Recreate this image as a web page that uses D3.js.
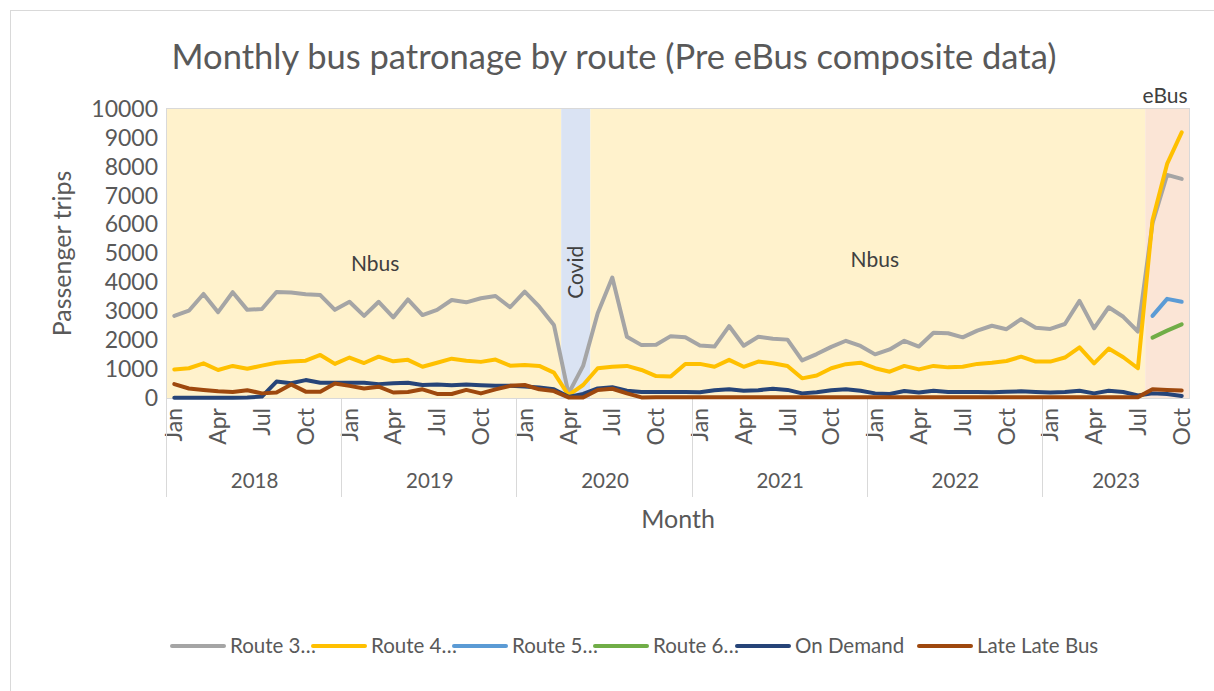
<!doctype html>
<html>
<head>
<meta charset="utf-8">
<title>Monthly bus patronage by route</title>
<script src="https://cdn.jsdelivr.net/npm/d3@7"></script>
<style>
  body { margin: 0; background: #fff; }
  text { font-family: Lato, "Open Sans", sans-serif; fill: #595959; }
</style>
</head>
<body>
<script>
// Categories: months of each year (2023 stops at October).
const years = [2018, 2019, 2020, 2021, 2022, 2023];
const monthNames = ["Jan", "Feb", "Mar", "Apr", "May", "Jun", "Jul", "Aug", "Sep", "Oct", "Nov", "Dec"];
const monthsPerYear = [12, 12, 12, 12, 12, 10];
const tickMonths = ["Jan", "Apr", "Jul", "Oct"];

// Passenger trips per month.
const route3 = [
  2840, 3020, 3600, 2970, 3660, 3050, 3080, 3670, 3650, 3590, 3560, 3050,
  3330, 2840, 3330, 2790, 3410, 2870, 3050, 3390, 3310, 3450, 3530, 3140,
  3680, 3160, 2530, 150, 1110, 2930, 4170, 2120, 1830, 1840, 2140, 2100,
  1820, 1780, 2490, 1810, 2120, 2050, 2020, 1300, 1520, 1770, 1980, 1800,
  1510, 1680, 1980, 1780, 2260, 2240, 2100, 2330, 2500, 2380, 2730, 2430,
  2390, 2560, 3360, 2410, 3140, 2810, 2300, 6050, 7720, 7580
];
const route4 = [
  990, 1030, 1200, 970, 1110, 1010, 1120, 1220, 1260, 1290, 1490, 1180,
  1400, 1210, 1430, 1270, 1320, 1080, 1220, 1360, 1290, 1250, 1330, 1120,
  1140, 1110, 880, 100, 450, 1030, 1080, 1110, 970, 760, 740, 1180,
  1180, 1080, 1320, 1080, 1260, 1200, 1110, 680, 780, 1030, 1170, 1220,
  1030, 910, 1110, 990, 1110, 1060, 1080, 1180, 1220, 1280, 1430, 1260,
  1260, 1400, 1750, 1200, 1710, 1410, 1030, 6150, 8100, 9190
];
const route5 = [
  null, null, null, null, null, null, null, null, null, null, null, null,
  null, null, null, null, null, null, null, null, null, null, null, null,
  null, null, null, null, null, null, null, null, null, null, null, null,
  null, null, null, null, null, null, null, null, null, null, null, null,
  null, null, null, null, null, null, null, null, null, null, null, null,
  null, null, null, null, null, null, null, 2840, 3430, 3330
];
const route6 = [
  null, null, null, null, null, null, null, null, null, null, null, null,
  null, null, null, null, null, null, null, null, null, null, null, null,
  null, null, null, null, null, null, null, null, null, null, null, null,
  null, null, null, null, null, null, null, null, null, null, null, null,
  null, null, null, null, null, null, null, null, null, null, null, null,
  null, null, null, null, null, null, null, 2090, 2330, 2550
];
const onDemand = [
  10, 10, 10, 10, 10, 20, 50, 570, 510, 620, 530, 530,
  530, 530, 480, 510, 530, 450, 470, 440, 470, 440, 420, 420,
  400, 360, 300, 40, 140, 330, 370, 250, 210, 210, 210, 210,
  200, 270, 300, 250, 270, 320, 280, 160, 200, 270, 300, 250,
  160, 140, 240, 190, 250, 210, 210, 210, 200, 220, 230, 210,
  190, 210, 250, 160, 250, 210, 90, 160, 140, 70
];
const lateLateBus = [
  480, 330, 280, 230, 210, 270, 160, 190, 470, 220, 220, 500,
  420, 330, 390, 190, 210, 300, 140, 140, 280, 160, 300, 420,
  450, 300, 240, 20, 20, 280, 320, 160, 20, 30, 30, 30,
  30, 30, 30, 30, 30, 30, 30, 30, 30, 30, 30, 30,
  30, 30, 30, 30, 30, 30, 30, 30, 30, 30, 30, 30,
  30, 30, 30, 30, 30, 30, 30, 300, 280, 260
];

const seriesNames = ["Route 3\u2026", "Route 4\u2026", "Route 5\u2026", "Route 6\u2026", "On Demand", "Late Late Bus"];
const seriesValues = [route3, route4, route5, route6, onDemand, lateLateBus];
const seriesColors = ["#a5a5a5", "#ffc000", "#5b9bd5", "#70ad47", "#264478", "#9e480e"];

// Shaded periods behind the lines.
const periodLabels = ["Nbus", "Covid", "Nbus", "eBus"];
const periodStart = ["2018-Jan", "2020-Apr", "2020-Jun", "2023-Aug"];
const periodEnd = ["2020-Mar", "2020-May", "2023-Jul", "2023-Oct"];
const periodColors = ["#fff2cc", "#dae3f3", "#fff2cc", "#fbe5d6"];

const categories = years.flatMap((yr, i) => monthNames.slice(0, monthsPerYear[i]).map((m) => `${yr}-${m}`));

// Chart dimensions.
const width = 1214;
const height = 691;
const plotLeft = 167;
const plotRight = 1189;
const plotTop = 109;
const plotBottom = 398;

const x = d3.scaleBand(categories, [plotLeft, plotRight]).padding(0);
const y = d3.scaleLinear([0, 10000], [plotBottom, plotTop]);
const cx = (c) => x(c) + x.bandwidth() / 2;

const svg = d3.create("svg")
    .attr("width", width)
    .attr("height", height)
    .attr("viewBox", [0, 0, width, height]);

// Chart area border.
svg.append("rect")
    .attr("x", 10.5).attr("y", 10.5)
    .attr("width", width).attr("height", height)
    .attr("fill", "#fff")
    .attr("stroke", "#d9d9d9");

// Title.
svg.append("text")
    .attr("x", 614).attr("y", 69)
    .attr("text-anchor", "middle")
    .attr("font-size", 34.5)
    .text("Monthly bus patronage by route (Pre eBus composite data)");

// Period bands.
const periods = periodLabels.map((label, i) => ({label, start: periodStart[i], end: periodEnd[i], color: periodColors[i]}));
svg.append("g")
  .selectAll("rect")
  .data(periods)
  .join("rect")
    .attr("x", (d) => x(d.start))
    .attr("y", y(10000))
    .attr("width", (d) => x(d.end) + x.bandwidth() - x(d.start))
    .attr("height", y(0) - y(10000))
    .attr("fill", (d) => d.color);

// Plot area outline.
svg.append("rect")
    .attr("x", plotLeft - 0.5).attr("y", y(10000) - 0.5)
    .attr("width", plotRight - plotLeft + 1)
    .attr("height", y(0) - y(10000) + 1)
    .attr("fill", "none")
    .attr("stroke", "#d9d9d9");

// Period labels.
const labelG = svg.append("g").attr("font-size", 21);
periods.forEach((d, i) => {
  const mid = (x(d.start) + x(d.end) + x.bandwidth()) / 2;
  if (d.label === "Covid") {
    labelG.append("text")
        .attr("transform", `translate(${x(d.start) + 14},${y(4350)}) rotate(-90)`)
        .attr("text-anchor", "middle")
        .attr("dy", "0.35em")
        .style("fill", "#404040")
        .text(d.label);
  } else if (d.label === "eBus") {
    labelG.append("text")
        .attr("x", mid - 2).attr("y", plotTop - 6)
        .attr("text-anchor", "middle")
        .style("fill", "#404040")
        .text(d.label);
  } else {
    labelG.append("text")
        .attr("x", mid + (i === 0 ? 11 : 7))
        .attr("y", y(i === 0 ? 4650 : 4800))
        .attr("text-anchor", "middle")
        .attr("dy", "0.35em")
        .style("fill", "#404040")
        .text(d.label);
  }
});

// Y axis.
svg.append("g")
    .attr("transform", `translate(${plotLeft},0)`)
    .call(d3.axisLeft(y).tickValues(d3.range(0, 10001, 1000)).tickFormat(d3.format("d")).tickSize(0).tickPadding(9))
    .call((g) => g.select(".domain").remove())
    .call((g) => g.selectAll("text").attr("font-size", 23).attr("font-family", null));

svg.append("text")
    .attr("transform", `translate(62,${(plotTop + plotBottom) / 2}) rotate(-90)`)
    .attr("text-anchor", "middle")
    .attr("dy", "0.35em")
    .attr("font-size", 25)
    .text("Passenger trips");

// X axis: month labels, year labels and group separators.
svg.append("g")
  .selectAll("text")
  .data(categories.filter((c) => tickMonths.includes(c.slice(5))))
  .join("text")
    .attr("transform", (c) => `translate(${cx(c)},${plotBottom + 10}) rotate(-90)`)
    .attr("text-anchor", "end")
    .attr("dy", "0.35em")
    .attr("font-size", 23)
    .text((c) => c.slice(5));

const yearStart = years.map((yr) => x(`${yr}-Jan`));
svg.append("g")
  .selectAll("line")
  .data(yearStart)
  .join("line")
    .attr("x1", (d) => Math.round(d) - 0.5).attr("x2", (d) => Math.round(d) - 0.5)
    .attr("y1", plotBottom).attr("y2", 497)
    .attr("stroke", "#d9d9d9");

svg.append("g")
  .selectAll("text")
  .data(years)
  .join("text")
    .attr("x", (yr, i) => {
      const last = `${yr}-${monthNames[monthsPerYear[i] - 1]}`;
      return (x(`${yr}-Jan`) + x(last) + x.bandwidth()) / 2;
    })
    .attr("y", 481)
    .attr("text-anchor", "middle")
    .attr("dy", "0.35em")
    .attr("font-size", 20.5)
    .text((yr) => yr);

svg.append("text")
    .attr("x", 678).attr("y", 519)
    .attr("text-anchor", "middle")
    .attr("dy", "0.35em")
    .attr("font-size", 25)
    .text("Month");

// Lines.
const line = d3.line()
    .defined((d) => d[1] != null)
    .x((d) => cx(d[0]))
    .y((d) => y(d[1]));

svg.append("g")
    .attr("fill", "none")
    .attr("stroke-width", 4)
    .attr("stroke-linejoin", "round")
    .attr("stroke-linecap", "round")
  .selectAll("path")
  .data(seriesValues)
  .join("path")
    .attr("stroke", (d, i) => seriesColors[i])
    .attr("d", (vals) => line(categories.map((c, j) => [c, vals[j]])));

// Legend.
const legendX = [172, 313, 454, 595, 737, 919];
const legend = svg.append("g")
  .selectAll("g")
  .data(seriesNames)
  .join("g")
    .attr("transform", (d, i) => `translate(${legendX[i]},646)`);
legend.append("line")
    .attr("x1", 0).attr("x2", 52)
    .attr("stroke", (d, i) => seriesColors[i])
    .attr("stroke-width", 4)
    .attr("stroke-linecap", "round");
legend.append("text")
    .attr("x", 58)
    .attr("dy", "0.35em")
    .attr("font-size", 20.5)
    .text((d) => d);

document.body.append(svg.node());
</script>
</body>
</html>
